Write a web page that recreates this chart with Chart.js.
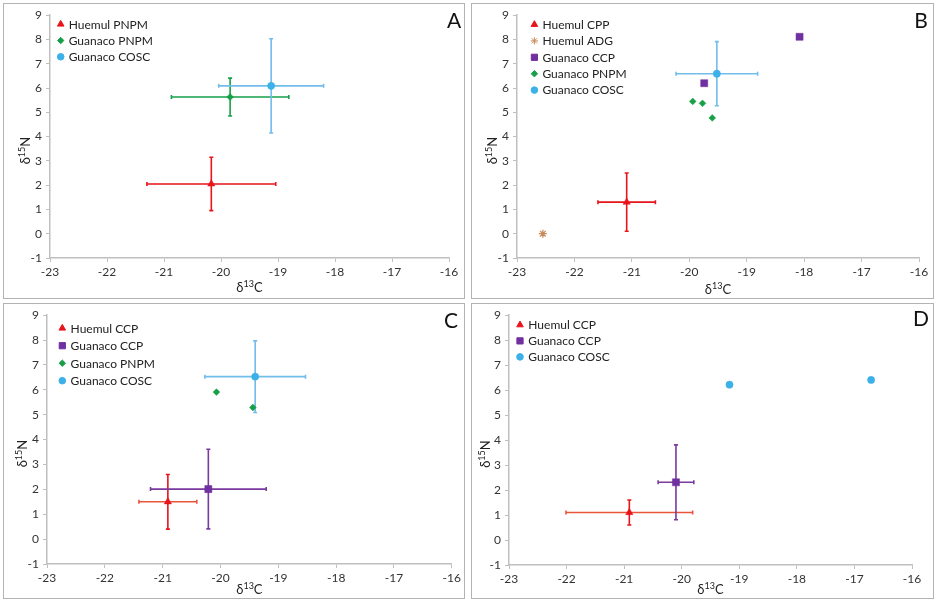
<!DOCTYPE html>
<html>
<head>
<meta charset="utf-8">
<script src="https://cdn.jsdelivr.net/npm/chart.js@4.4.1/dist/chart.umd.min.js"></script>
<style>
  body { margin: 0; background: #fff; }
  .panel { position: absolute; border: 1px solid #b3b3b3; box-sizing: border-box; background: #fff; }
</style>
</head>
<body>
<div class="panel" style="left:3px;top:3px;width:462px;height:296px"><canvas id="chartA"></canvas></div>
<div class="panel" style="left:471px;top:3px;width:463px;height:296px"><canvas id="chartB"></canvas></div>
<div class="panel" style="left:3px;top:303px;width:462px;height:296px"><canvas id="chartC"></canvas></div>
<div class="panel" style="left:471px;top:303px;width:463px;height:296px"><canvas id="chartD"></canvas></div>
<script>
// axis ranges / ticks
const xRange = [-23, -16];
const yRange = [-1, 9];

// Panel A
const labelsA = ['Huemul PNPM', 'Guanaco PNPM', 'Guanaco COSC'];
const xA = [[-20.17], [-19.84], [-19.12]];
const yA = [[2.05], [5.63], [6.09]];
const xErrA = [[1.13], [1.03], [0.92]];
const yErrA = [[1.1], [0.78], [1.94]];

// Panel B
const labelsB = ['Huemul CPP', 'Huemul ADG', 'Guanaco CCP', 'Guanaco PNPM', 'Guanaco COSC'];
const xB = [[-21.09], [-22.55], [-19.74, -18.08], [-19.94, -19.77, -19.60], [-19.52]];
const yB = [[1.3], [0.0], [6.2, 8.11], [5.45, 5.37, 4.77], [6.59]];
const xErrB = [[0.5], null, null, null, [0.71]];
const yErrB = [[1.2], null, null, null, [1.32]];

// Panel C
const labelsC = ['Huemul CCP', 'Guanaco CCP', 'Guanaco PNPM', 'Guanaco COSC'];
const xC = [[-20.91], [-20.21], [-20.07, -19.44], [-19.40]];
const yC = [[1.5], [2.01], [5.91, 5.29], [6.53]];
const xErrC = [[0.5], [1.0], null, [0.87]];
const yErrC = [[1.1], [1.6], null, [1.44]];

// Panel D
const labelsD = ['Huemul CCP', 'Guanaco CCP', 'Guanaco COSC'];
const xD = [[-20.91], [-20.10], [-19.17, -16.71]];
const yD = [[1.1], [2.31], [6.22, 6.41]];
const xErrD = [[1.1], [0.31], null];
const yErrD = [[0.5], [1.5], null];

const FONT = 'Lato, "Liberation Sans", sans-serif';

// marker look per group
function styleFor(label) {
  if (label === 'Huemul ADG') return { pointStyle: 'star', color: '#c98a5b', radius: 4, legendRadius: 3.6, errColor: '#c98a5b' };
  if (label.startsWith('Huemul')) return { pointStyle: 'triangle', color: '#e8141b', radius: 4.2, legendRadius: 3.8, errColor: '#e8141b' };
  if (label === 'Guanaco CCP') return { pointStyle: 'rect', color: '#7030a0', radius: 5, legendRadius: 4.4, errColor: '#7a3a9e' };
  if (label === 'Guanaco PNPM') return { pointStyle: 'rectRot', color: '#18a049', radius: 3.4, legendRadius: 3.2, errColor: '#18a049' };
  return { pointStyle: 'circle', color: '#3cb0e8', radius: 3.6, legendRadius: 3.3, errColor: '#72bdea' };
}

// draws error bars under the markers
const errorBars = {
  id: 'errorBars',
  beforeDatasetsDraw(chart) {
    const { ctx } = chart;
    const xs = chart.scales.x, ys = chart.scales.y;
    const cap = 2;
    chart.data.datasets.forEach(ds => {
      ds.data.forEach((p, j) => {
        const px = xs.getPixelForValue(p.x), py = ys.getPixelForValue(p.y);
        ctx.save();
        ctx.lineWidth = 1.6;
        if (ds.xErr) {
          const x0 = xs.getPixelForValue(p.x - ds.xErr[j]);
          const x1 = xs.getPixelForValue(p.x + ds.xErr[j]);
          ctx.strokeStyle = ds.xErrColor;
          ctx.beginPath();
          ctx.moveTo(x0, py); ctx.lineTo(x1, py);
          ctx.moveTo(x0, py - cap); ctx.lineTo(x0, py + cap);
          ctx.moveTo(x1, py - cap); ctx.lineTo(x1, py + cap);
          ctx.stroke();
        }
        if (ds.yErr) {
          const y0 = ys.getPixelForValue(p.y - ds.yErr[j]);
          const y1 = ys.getPixelForValue(p.y + ds.yErr[j]);
          ctx.strokeStyle = ds.yErrColor;
          ctx.beginPath();
          ctx.moveTo(px, y0); ctx.lineTo(px, y1);
          ctx.moveTo(px - cap, y0); ctx.lineTo(px + cap, y0);
          ctx.moveTo(px - cap, y1); ctx.lineTo(px + cap, y1);
          ctx.stroke();
        }
        ctx.restore();
      });
    });
  }
};

// legend inside plot, axis titles with superscripts, panel letter
const decorations = {
  id: 'decorations',
  afterDraw(chart, args, opts) {
    const { ctx, chartArea: ca, width, height } = chart;
    ctx.save();
    // legend
    chart.data.datasets.forEach((ds, i) => {
      const cy = ca.top + opts.legY + i * opts.legStep;
      const cx = ca.left + opts.legX;
      ctx.fillStyle = ds.backgroundColor;
      ctx.strokeStyle = ds.borderColor;
      Chart.helpers.drawPoint(ctx, { pointStyle: ds.pointStyle, radius: ds.legendRadius, rotation: 0, borderWidth: ds.pointStyle === 'star' ? 1.2 : 0.5 }, cx, cy);
      ctx.fillStyle = '#222';
      ctx.font = '12px ' + FONT;
      ctx.textAlign = 'left';
      ctx.textBaseline = 'middle';
      ctx.fillText(ds.label, ca.left + opts.legText, cy + 0.5);
    });
    // panel letter
    ctx.fillStyle = '#111';
    ctx.font = '21px ' + FONT;
    ctx.textAlign = 'center';
    ctx.textBaseline = 'middle';
    ctx.fillText(opts.letter, width - opts.letterRight, opts.letterTop);

    // axis title helper: delta + superscript + letter
    function deltaTitle(sup, letter, cx, cy, rot) {
      ctx.save();
      ctx.translate(cx, cy);
      ctx.rotate(rot);
      ctx.fillStyle = '#222';
      ctx.textBaseline = 'alphabetic';
      ctx.textAlign = 'left';
      const big = '13px ' + FONT, small = '9px ' + FONT;
      ctx.font = big; const w1 = ctx.measureText('δ').width, w3 = ctx.measureText(letter).width;
      ctx.font = small; const w2 = ctx.measureText(sup).width;
      let x0 = -(w1 + w2 + w3) / 2;
      const base = 4.5;
      ctx.font = big; ctx.fillText('δ', x0, base);
      ctx.font = small; ctx.fillText(sup, x0 + w1, base - 5);
      ctx.font = big; ctx.fillText(letter, x0 + w1 + w2, base);
      ctx.restore();
    }
    deltaTitle('13', 'C', (ca.left + ca.right) / 2, height - opts.xTitle, 0);
    deltaTitle('15', 'N', opts.yTitle, (ca.top + ca.bottom) / 2 + 14, -Math.PI / 2);
    ctx.restore();
  }
};

function makeDatasets(labels, xs, ys, xErrs, yErrs, huemulXErr) {
  return labels.map((label, i) => {
    const st = styleFor(label);
    return {
      label: label,
      data: xs[i].map((v, j) => ({ x: v, y: ys[i][j] })),
      pointStyle: st.pointStyle,
      backgroundColor: st.color,
      borderColor: st.color,
      pointRadius: st.radius,
      pointHoverRadius: st.radius,
      pointBorderWidth: st.pointStyle === 'star' ? 1.3 : 0.5,
      legendRadius: st.legendRadius,
      xErr: xErrs[i],
      yErr: yErrs[i],
      xErrColor: label.startsWith('Huemul') && huemulXErr ? huemulXErr : st.errColor,
      yErrColor: st.errColor
    };
  });
}

function makeChart(id, datasets, lay, deco) {
  const axisColor = '#bfbfbf';
  const tickFont = { family: FONT, size: 12 };
  new Chart(document.getElementById(id), {
    type: 'scatter',
    data: { datasets: datasets },
    plugins: [errorBars, decorations],
    options: {
      responsive: true,
      maintainAspectRatio: false,
      animation: false,
      layout: { padding: { left: 0, right: lay.r, top: lay.t, bottom: 0 } },
      plugins: {
        legend: { display: false },
        tooltip: { enabled: false },
        decorations: deco
      },
      scales: {
        x: {
          type: 'linear', min: xRange[0], max: xRange[1],
          afterFit: s => { s.height = lay.b; },
          grid: { drawOnChartArea: false, drawTicks: true, tickLength: 4, color: axisColor },
          border: { color: axisColor, width: 1.5 },
          ticks: { stepSize: 1, color: '#333', font: tickFont, padding: 3, maxRotation: 0, autoSkip: false }
        },
        y: {
          type: 'linear', min: yRange[0], max: yRange[1],
          afterFit: s => { s.width = lay.l; },
          grid: { drawOnChartArea: false, drawTicks: true, tickLength: 4, color: axisColor },
          border: { color: axisColor, width: 1.5 },
          ticks: { stepSize: 1, color: '#333', font: tickFont, padding: 4 }
        }
      }
    }
  });
}

makeChart('chartA', makeDatasets(labelsA, xA, yA, xErrA, yErrA, null),
  { l: 46, r: 15, t: 7, b: 40 },
  { letter: 'A', letterRight: 10, letterTop: 17, legX: 10.7, legY: 9, legStep: 16.3, legText: 18.7, xTitle: 11, yTitle: 21.5 });
makeChart('chartB', makeDatasets(labelsB, xB, yB, xErrB, yErrB, null),
  { l: 45, r: 14, t: 8, b: 40 },
  { letter: 'B', letterRight: 12, letterTop: 17, legX: 17.4, legY: 9.3, legStep: 16.4, legText: 25.4, xTitle: 9, yTitle: 20 });
makeChart('chartC', makeDatasets(labelsC, xC, yC, xErrC, yErrC, '#e9553b'),
  { l: 43, r: 10, t: 7, b: 34 },
  { letter: 'C', letterRight: 13, letterTop: 17, legX: 15.3, legY: 13, legStep: 17.5, legText: 23.6, xTitle: 9, yTitle: 18 });
makeChart('chartD', makeDatasets(labelsD, xD, yD, xErrD, yErrD, '#e9553b'),
  { l: 37, r: 21, t: 8, b: 33 },
  { letter: 'D', letterRight: 12, letterTop: 15.5, legX: 11, legY: 9.7, legStep: 16, legText: 19.3, xTitle: 9, yTitle: 13 });
</script>
</body>
</html>
